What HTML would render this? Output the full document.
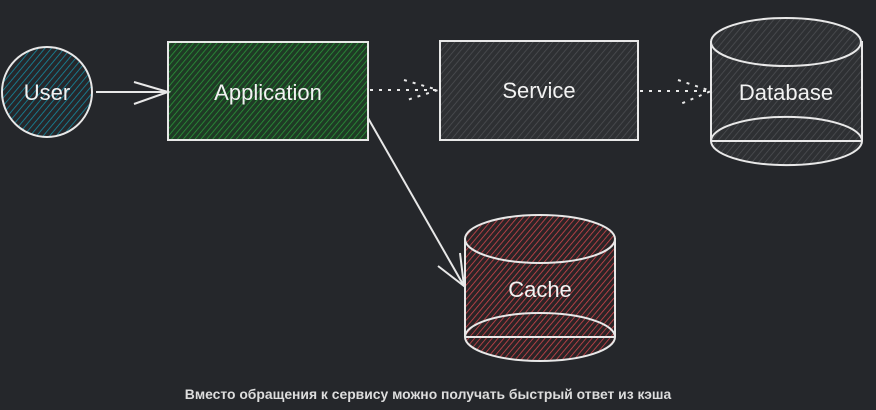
<!DOCTYPE html>
<html><head><meta charset="utf-8"><style>
html,body{margin:0;padding:0;background:#25272b;width:876px;height:410px;overflow:hidden}
svg{display:block}
text{font-family:"Liberation Sans",sans-serif}
</style></head><body>
<svg width="876" height="410" viewBox="0 0 876 410" xmlns="http://www.w3.org/2000/svg">
<defs>
<pattern id="hb" width="5" height="5" patternUnits="userSpaceOnUse" patternTransform="rotate(40)"><rect width="5" height="5" fill="#25272b"/><line x1="0" y1="0" x2="0" y2="5" stroke="#168aa0" stroke-width="1.6"/></pattern>
<pattern id="hg" width="4.5" height="5" patternUnits="userSpaceOnUse" patternTransform="rotate(40)"><rect width="5" height="5" fill="#1f3a25"/><line x1="0" y1="0" x2="0" y2="5" stroke="#2a9a3a" stroke-width="1.5"/></pattern>
<pattern id="hs" width="5" height="5" patternUnits="userSpaceOnUse" patternTransform="rotate(40)"><rect width="5" height="5" fill="#2e3033"/><line x1="0" y1="0" x2="0" y2="5" stroke="#4d4f53" stroke-width="1.5"/></pattern>
<pattern id="hr" width="4.5" height="5" patternUnits="userSpaceOnUse" patternTransform="rotate(40)"><rect width="5" height="5" fill="#2a2426"/><line x1="0" y1="0" x2="0" y2="5" stroke="#d0454c" stroke-width="1.6"/></pattern>
</defs>
<g stroke="#e8e8e8" stroke-width="2" fill="none">
<circle cx="47" cy="92" r="45" fill="url(#hb)"/>
<rect x="168" y="42" width="200" height="98" fill="url(#hg)"/>
<rect x="440" y="41" width="198" height="99" fill="url(#hs)"/>
<path d="M711 42 V141 A75 24 0 0 0 862 141 V42 Z" fill="url(#hs)"/>
<ellipse cx="786" cy="42" rx="75" ry="24" fill="url(#hs)"/>
<path d="M711 141 A75 24 0 0 1 862 141"/>
<line x1="711" y1="141" x2="862" y2="141"/>
<path d="M465 239 V337 A75 24 0 0 0 615 337 V239 Z" fill="url(#hr)"/>
<ellipse cx="540" cy="239" rx="75" ry="24" fill="url(#hr)"/>
<path d="M465 337 A75 24 0 0 1 615 337"/>
<line x1="465" y1="337" x2="615" y2="337"/>
<line x1="96" y1="92" x2="168" y2="92"/>
<path d="M134 82 L168 92 L134 104"/>
<line x1="368" y1="118" x2="464" y2="286"/>
<path d="M438 266 L464 286 L460 253"/>
<g stroke-dasharray="3 6">
<line x1="370" y1="90" x2="438" y2="90"/>
<path d="M404 80 L438 90 L404 101"/>
<line x1="640" y1="91" x2="711" y2="91"/>
<path d="M678 80 L711 91 L678 105"/>
</g>
</g>
<g fill="#f2f2f2" font-size="22" text-anchor="middle" font-family="'Comic Sans MS','Liberation Sans',sans-serif">
<text x="47" y="100">User</text>
<text x="268" y="100">Application</text>
<text x="539" y="98">Service</text>
<text x="786" y="100">Database</text>
<text x="540" y="297">Cache</text>
</g>
<text x="428" y="399" fill="#dddddd" font-size="13.9" font-weight="bold" text-anchor="middle">Вместо обращения к сервису можно получать быстрый ответ из кэша</text>
</svg>
</body></html>
